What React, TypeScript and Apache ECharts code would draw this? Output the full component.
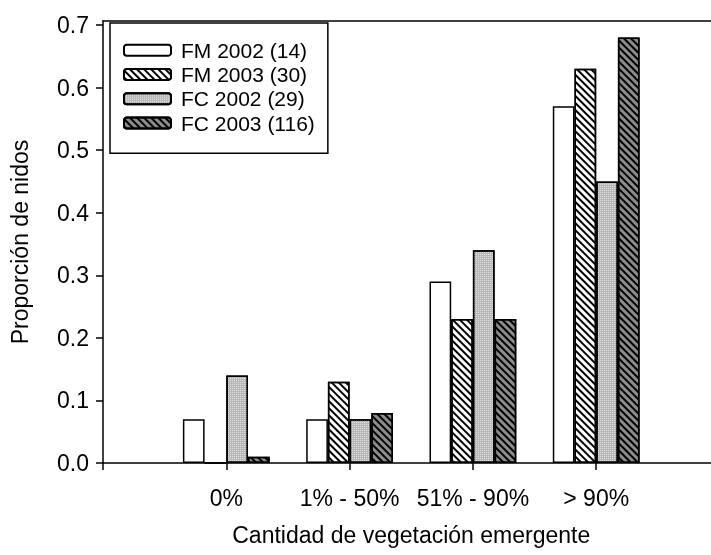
import { useEffect, useRef } from 'react';
import * as echarts from 'echarts';

const categories = ['0%', '1% - 50%', '51% - 90%', '> 90%'];
const seriesNames = ['FM 2002 (14)', 'FM 2003 (30)', 'FC 2002 (29)', 'FC 2003 (116)'];
const fm2002 = [0.07, 0.07, 0.29, 0.57];
const fm2003 = [0, 0.13, 0.23, 0.63];
const fc2002 = [0.14, 0.07, 0.34, 0.45];
const fc2003 = [0.01, 0.08, 0.23, 0.68];
const yTicks = [0, 0.1, 0.2, 0.3, 0.4, 0.5, 0.6, 0.7];

const FONT = '"Liberation Sans", Arial, sans-serif';

export default function App() {
  const ref = useRef<HTMLDivElement>(null);
  useEffect(() => {
    if (!ref.current) return;
    const chart = echarts.init(ref.current, null, { renderer: 'svg' });
    const toData = (vals: number[]) => vals.map((v, i) => [i + 1, v]);
    const border = { borderColor: '#000', borderWidth: 1.5 };
    const styles = [
      { color: '#ffffff', ...border },
      {
        color: '#ffffff',
        ...border,
        decal: { symbol: 'rect', symbolSize: 1, color: '#000', dashArrayX: [1, 0], dashArrayY: [2, 3], rotation: Math.PI / 4 },
      },
      {
        color: '#b8b8b8',
        ...border,
        decal: { symbol: 'rect', symbolSize: 1, color: 'rgba(255,255,255,0.55)', dashArrayX: [1, 1], dashArrayY: [1, 1], rotation: 0 },
      },
      {
        color: '#8c8c8c',
        ...border,
        decal: { symbol: 'rect', symbolSize: 1, color: '#000', dashArrayX: [1, 0], dashArrayY: [1.6, 2.4], rotation: Math.PI / 4 },
      },
    ];
    const allVals = [fm2002, fm2003, fc2002, fc2003];
    chart.setOption({
      animation: false,
      aria: { enabled: false, decal: { show: true } },
      textStyle: { fontFamily: FONT, color: '#000' },
      grid: { left: 103, width: 616.5, top: 21, bottom: 92, containLabel: false, outerBoundsMode: 'none' },
      legend: {
        data: seriesNames,
        orient: 'vertical',
        left: 110,
        top: 23,
        padding: [15, 13, 18, 13],
        itemWidth: 47,
        itemHeight: 11,
        itemGap: 0,
        backgroundColor: '#fff',
        borderColor: '#000',
        borderWidth: 1.5,
        textStyle: { fontFamily: FONT, fontSize: 21, color: '#000', lineHeight: 24.3, padding: [0, 0, 0, 5] },
        z: 10,
      },
      xAxis: [
        {
          type: 'value',
          min: 0,
          max: 5,
          interval: 1,
          name: 'Cantidad de vegetación emergente',
          nameLocation: 'middle',
          nameGap: 60,
          nameTextStyle: { fontFamily: FONT, fontSize: 23, color: '#000' },
          axisLine: { show: true, lineStyle: { color: '#000', width: 1.5 } },
          axisTick: { show: true, length: 7, lineStyle: { color: '#000', width: 1.5 } },
          axisLabel: {
            margin: 23,
            fontFamily: FONT,
            fontSize: 23,
            color: '#000',
            formatter: (v: number) => categories[Math.round(v) - 1] ?? '',
          },
          splitLine: { show: false },
        },
        {
          type: 'value',
          position: 'top',
          min: 0,
          max: 5,
          axisLine: { show: true, lineStyle: { color: '#000', width: 1.5 } },
          axisTick: { show: false },
          axisLabel: { show: false },
          splitLine: { show: false },
        },
      ],
      yAxis: {
        type: 'value',
        min: 0,
        max: 0.7064,
        name: 'Proporción de nidos',
        nameLocation: 'middle',
        nameGap: 72,
        nameTextStyle: { fontFamily: FONT, fontSize: 23, color: '#000' },
        axisLine: { show: true, lineStyle: { color: '#000', width: 1.5 } },
        axisTick: { show: true, length: 7, customValues: yTicks, lineStyle: { color: '#000', width: 1.5 } },
        axisLabel: {
          customValues: yTicks,
          margin: 14,
          fontFamily: FONT,
          fontSize: 23,
          color: '#000',
          formatter: (v: number) => v.toFixed(1),
        },
        splitLine: { show: false },
      },
      series: allVals.map((vals, i) => ({
        type: 'bar',
        name: seriesNames[i],
        xAxisIndex: 0,
        data: toData(vals),
        barWidth: 21.7,
        barGap: '0%',
        itemStyle: styles[i],
      })),
    });
    return () => chart.dispose();
  }, []);
  return <div ref={ref} style={{ position: 'fixed', left: 0, top: 0, width: 711, height: 555 }} />;
}
